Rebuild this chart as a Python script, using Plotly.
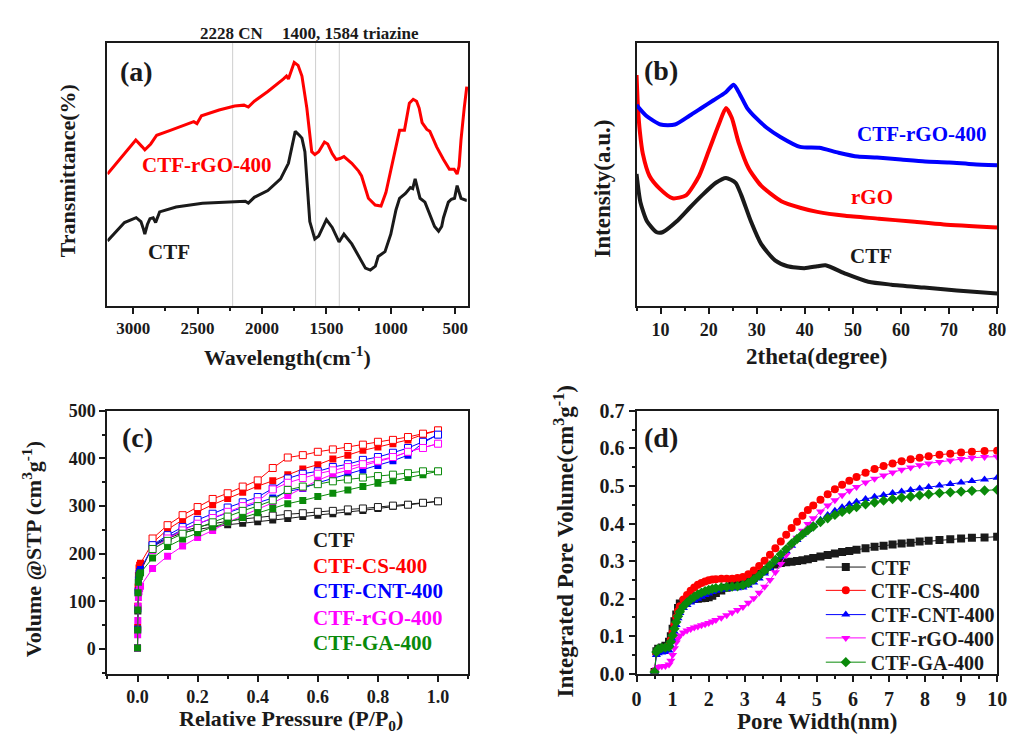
import plotly.graph_objects as go

W, H = 1018, 744
FONT = "Liberation Serif"
INK = "#1a1a1a"
RED, BLUE, MAG, GREEN = "#ff0000", "#0000ff", "#ff00ff", "#0a8a0a"

# ---------------- (a) FTIR spectra (arbitrary transmittance units) ----------------
ftir_wn_rgo = [3200, 2980, 2930, 2910, 2864, 2818, 2712, 2560, 2530, 2505, 2470, 2333, 2212, 2140,
               2106, 2060, 1955, 1833, 1810, 1795, 1775, 1750, 1720, 1690, 1652, 1630, 1614, 1590,
               1560, 1515, 1490, 1455, 1424, 1395, 1364, 1303, 1250, 1227, 1195, 1174, 1121, 1076,
               1038, 1000, 970, 932, 894, 870, 856, 826, 800, 780, 757, 720, 697, 670, 644, 591,
               545, 508, 485, 470, 455, 430, 410]
ftir_t_rgo = [136, 171, 164, 161, 167, 176, 181, 189, 190, 188, 196, 202, 206, 207,
              205, 211, 221, 234, 237, 234, 241, 251, 248, 237, 204, 179, 159, 156,
              159, 169, 167, 157, 151, 152, 154, 147, 139, 134, 119, 111, 104, 103,
              117, 139, 157, 181, 181, 199, 209, 213, 211, 204, 189, 182, 180, 172, 164, 151,
              141, 141, 136, 144, 171, 204, 226]

ftir_wn_ctf = [3200, 3068, 2977, 2940, 2920, 2910, 2890, 2870, 2845, 2826, 2795, 2667, 2462, 2212,
               2130, 2106, 2060, 1955, 1856, 1795, 1760, 1742, 1710, 1690, 1667, 1645, 1629, 1590,
               1560, 1500, 1455, 1402, 1364, 1303, 1250, 1197, 1159, 1120, 1098, 1045, 1000, 960,
               932, 886, 848, 830, 811, 790, 773, 735, 697, 660, 629, 605, 591, 553, 530, 505,
               485, 470, 455, 417, 410]
ftir_t_ctf = [67, 86, 91, 87, 79, 74, 84, 90, 91, 86, 97, 102, 106, 107,
              108, 106, 112, 119, 131, 147, 169, 180, 176, 173, 159, 119, 87, 69,
              72, 89, 81, 66, 74, 64, 51, 39, 37, 41, 51, 56, 74, 99,
              111, 116, 122, 121, 131, 119, 111, 107, 94, 82, 77, 82, 91, 107, 110, 111,
              124, 116, 111, 109, 109]

ftir_marks = [2228, 1584, 1400]

# ---------------- (b) XRD patterns (arbitrary intensity units) ----------------
xrd_tt_comp = [5.0, 7.0, 10.0, 13.0, 16.0, 18.5, 21.0, 23.5, 25.2, 26.5, 28.0, 30.0, 32.0, 35.0,
               39.0, 43.0, 47.0, 51.0, 55.0, 60.0, 65.0, 70.0, 75.0, 80.0]
xrd_i_comp = [207, 196, 187, 187, 196, 204, 212, 220, 228, 218, 204, 193, 184, 174,
              164, 163, 158, 154, 153, 151, 149, 148, 146, 145]

xrd_tt_rgo = [5.0, 5.3, 5.7, 6.3, 7.7, 9.8, 12.5, 15.3, 18.0, 20.1, 22.1, 23.6, 24.8, 26.2,
              28.3, 30.9, 35.1, 39.2, 42.6, 48.4, 55.4, 62.2, 68.9, 80.0]
xrd_i_rgo = [238, 204, 179, 157, 134, 121, 111, 114, 134, 161, 187, 204, 194, 169,
             142, 124, 108, 101, 97, 93, 90, 87, 84, 81]

xrd_tt_ctf = [5.0, 5.8, 7.2, 9.2, 10.4, 13.3, 16.0, 18.6, 21.5, 23.6, 25.6, 26.8, 28.8, 30.9,
              33.8, 36.4, 39.9, 42.6, 44.3, 48.6, 53.2, 58.0, 64.8, 71.6, 80.0]
xrd_i_ctf = [136, 107, 87, 76, 76, 87, 101, 114, 127, 132, 127, 114, 87, 64,
             47, 41, 39, 41, 42, 33, 25, 22, 19, 16, 13]

# ---------------- (c) N2 isotherms ----------------
p_ads = [0.0, 0.0005, 0.001, 0.002, 0.003, 0.005, 0.007, 0.01, 0.05, 0.1, 0.15, 0.2, 0.25, 0.3,
         0.35, 0.4, 0.45, 0.5, 0.55, 0.6, 0.65, 0.7, 0.75, 0.8, 0.85, 0.9, 0.95, 1.0]
p_des = [0.05, 0.1, 0.15, 0.2, 0.25, 0.3, 0.35, 0.4, 0.45, 0.5, 0.55, 0.6, 0.65, 0.7,
         0.75, 0.8, 0.85, 0.9, 0.95, 1.0]

ads_ctf = [2, 40, 80, 118, 140, 152, 158, 163, 215, 232, 244, 251, 256, 261,
           264, 267, 271, 274, 278, 281, 284, 288, 291, 295, 299, 303, 307, 310]
des_ctf = [217, 235, 247, 256, 263, 268, 273, 276, 280, 283, 285, 288, 290, 293,
           295, 298, 301, 303, 307, 310]
ads_cs = [2, 45, 90, 130, 155, 170, 176, 180, 223, 251, 271, 288, 303, 316,
          329, 342, 353, 366, 378, 387, 399, 407, 417, 424, 431, 439, 450, 459]
des_cs = [232, 260, 281, 298, 315, 327, 341, 354, 380, 402, 407, 414, 419, 424,
          429, 435, 439, 445, 452, 459]
ads_cnt = [2, 42, 85, 122, 145, 158, 163, 167, 215, 234, 251, 263, 274, 286,
           297, 307, 317, 331, 337, 349, 358, 367, 376, 385, 395, 407, 433, 450]
des_cnt = [218, 239, 256, 271, 284, 297, 308, 319, 337, 358, 368, 373, 382, 388,
           397, 403, 412, 422, 435, 450]
ads_rgo = [2, 30, 60, 90, 108, 120, 127, 132, 169, 195, 216, 234, 249, 266,
           280, 293, 307, 322, 338, 354, 367, 375, 385, 393, 402, 414, 422, 431]
des_rgo = [208, 232, 249, 263, 275, 288, 300, 310, 335, 349, 359, 368, 375, 382,
           388, 395, 403, 414, 422, 431]
ads_ga = [2, 40, 82, 118, 140, 152, 157, 160, 191, 215, 231, 244, 256, 266,
          276, 286, 295, 305, 312, 320, 327, 334, 341, 348, 353, 360, 366, 373]
des_ga = [210, 227, 242, 254, 266, 278, 290, 300, 312, 334, 341, 346, 352, 356,
          360, 363, 366, 369, 373, 373]

# ---------------- (d) cumulative pore volume ----------------
pore_w = [0.5, 0.55, 0.6, 0.7, 0.8, 0.9, 0.95, 1.0, 1.05, 1.1,
          1.15, 1.2, 1.3, 1.4, 1.5, 1.6, 1.7, 1.8, 1.9, 2.0,
          2.1, 2.2, 2.35, 2.5, 2.65, 2.8, 2.95, 3.1, 3.25, 3.4,
          3.55, 3.7, 3.85, 4.0, 4.15, 4.3, 4.45, 4.6, 4.75, 4.9,
          5.1, 5.3, 5.5, 5.7, 5.9, 6.1, 6.35, 6.6, 6.85, 7.1,
          7.35, 7.6, 7.85, 8.1, 8.4, 8.7, 9.0, 9.3, 9.65, 10.0]
pv_ctf = [0.005, 0.06, 0.067, 0.07, 0.075, 0.085, 0.10, 0.12, 0.14, 0.158,
          0.175, 0.187, 0.192, 0.195, 0.197, 0.199, 0.200, 0.201, 0.202, 0.204,
          0.208, 0.215, 0.222, 0.229, 0.234, 0.237, 0.240, 0.246, 0.255, 0.266,
          0.276, 0.285, 0.291, 0.295, 0.297, 0.298, 0.300, 0.302, 0.305, 0.308,
          0.312, 0.316, 0.320, 0.324, 0.327, 0.330, 0.334, 0.338, 0.341, 0.344,
          0.347, 0.349, 0.352, 0.354, 0.356, 0.358, 0.360, 0.362, 0.363, 0.365]
pv_cs = [0.005, 0.055, 0.062, 0.066, 0.068, 0.075, 0.09, 0.11, 0.13, 0.15,
         0.167, 0.18, 0.198, 0.21, 0.221, 0.23, 0.237, 0.242, 0.246, 0.249,
         0.251, 0.252, 0.253, 0.253, 0.253, 0.255, 0.258, 0.265, 0.275, 0.287,
         0.301, 0.317, 0.334, 0.352, 0.370, 0.388, 0.405, 0.421, 0.436, 0.448,
         0.463, 0.478, 0.491, 0.503, 0.514, 0.524, 0.535, 0.545, 0.553, 0.560,
         0.566, 0.571, 0.575, 0.579, 0.583, 0.586, 0.589, 0.591, 0.593, 0.594]
pv_cnt = [0.005, 0.05, 0.055, 0.057, 0.058, 0.062, 0.075, 0.092, 0.112, 0.13,
          0.148, 0.162, 0.175, 0.183, 0.19, 0.195, 0.2, 0.205, 0.21, 0.214,
          0.218, 0.221, 0.224, 0.226, 0.227, 0.228, 0.23, 0.235, 0.243, 0.254,
          0.267, 0.281, 0.296, 0.311, 0.326, 0.341, 0.356, 0.37, 0.383, 0.395,
          0.41, 0.423, 0.434, 0.443, 0.451, 0.458, 0.465, 0.471, 0.476, 0.481,
          0.485, 0.489, 0.493, 0.497, 0.501, 0.505, 0.509, 0.513, 0.517, 0.522]
pv_rgo = [0.003, 0.012, 0.018, 0.02, 0.021, 0.025, 0.035, 0.05, 0.068, 0.083,
          0.094, 0.102, 0.11, 0.115, 0.119, 0.123, 0.126, 0.129, 0.132, 0.135,
          0.139, 0.143, 0.149, 0.156, 0.163, 0.17, 0.178, 0.189, 0.201, 0.216,
          0.232, 0.25, 0.27, 0.292, 0.316, 0.34, 0.362, 0.381, 0.399, 0.414,
          0.432, 0.448, 0.462, 0.475, 0.487, 0.497, 0.509, 0.519, 0.528, 0.536,
          0.543, 0.549, 0.555, 0.56, 0.564, 0.568, 0.572, 0.575, 0.577, 0.578]
pv_ga = [0.005, 0.058, 0.066, 0.069, 0.07, 0.072, 0.085, 0.102, 0.12, 0.138,
         0.153, 0.165, 0.18, 0.19, 0.198, 0.205, 0.211, 0.216, 0.22, 0.223,
         0.226, 0.228, 0.23, 0.231, 0.232, 0.233, 0.236, 0.242, 0.251, 0.262,
         0.275, 0.289, 0.303, 0.318, 0.332, 0.346, 0.359, 0.371, 0.382, 0.392,
         0.404, 0.414, 0.423, 0.431, 0.438, 0.444, 0.451, 0.456, 0.461, 0.465,
         0.469, 0.472, 0.475, 0.478, 0.481, 0.483, 0.485, 0.487, 0.488, 0.49]

fig = go.Figure()

# (a)
fig.add_trace(go.Scatter(x=ftir_wn_ctf, y=ftir_t_ctf, mode="lines", line=dict(color=INK, width=3),
                         xaxis="x", yaxis="y", showlegend=False))
fig.add_trace(go.Scatter(x=ftir_wn_rgo, y=ftir_t_rgo, mode="lines", line=dict(color=RED, width=3),
                         xaxis="x", yaxis="y", showlegend=False))

# (b)
for tt, it, col in [(xrd_tt_ctf, xrd_i_ctf, INK), (xrd_tt_rgo, xrd_i_rgo, RED),
                    (xrd_tt_comp, xrd_i_comp, BLUE)]:
    fig.add_trace(go.Scatter(x=tt, y=it, mode="lines",
                             line=dict(color=col, width=4, shape="spline", smoothing=0.6),
                             xaxis="x2", yaxis="y2", showlegend=False))

# (c)
iso = [(ads_ctf, des_ctf, INK), (ads_cs, des_cs, RED), (ads_cnt, des_cnt, BLUE),
       (ads_rgo, des_rgo, MAG), (ads_ga, des_ga, GREEN)]
for ads, des, col in iso:
    fig.add_trace(go.Scatter(x=p_ads, y=ads, mode="lines+markers", line=dict(color=col, width=1),
                             marker=dict(symbol="square", size=7, color=col),
                             xaxis="x3", yaxis="y3", showlegend=False))
    fig.add_trace(go.Scatter(x=p_des, y=des, mode="lines+markers", line=dict(color=col, width=1),
                             marker=dict(symbol="square", size=7, color="white", line=dict(color=col, width=1)),
                             xaxis="x3", yaxis="y3", showlegend=False))

# (d) -- one single-entry legend per series so the rows can be spaced freely
pores = [("CTF", pv_ctf, INK, "square"), ("CTF-CS-400", pv_cs, RED, "circle"),
         ("CTF-CNT-400", pv_cnt, BLUE, "triangle-up"), ("CTF-rGO-400", pv_rgo, MAG, "triangle-down"),
         ("CTF-GA-400", pv_ga, GREEN, "diamond")]
legend_rows = [573, 597, 622, 646, 671]
legend_ids = ["legend", "legend2", "legend3", "legend4", "legend5"]
for (name, pv, col, sym), lid in zip(pores, legend_ids):
    fig.add_trace(go.Scatter(x=pore_w, y=pv, name=name, mode="lines+markers", legend=lid,
                             line=dict(color=col, width=1), marker=dict(symbol=sym, size=8, color=col),
                             xaxis="x4", yaxis="y4"))


def axis(**kw):
    d = dict(showline=True, linecolor=INK, linewidth=2, mirror=True, showgrid=False, zeroline=False,
             ticks="outside", ticklen=6, tickwidth=1.5, tickcolor=INK,
             tickfont=dict(family=FONT, size=18, color=INK, weight="bold"))
    d.update(kw)
    return d


def minor(dt):
    return dict(ticks="outside", ticklen=3, tickwidth=1.5, tickcolor=INK, dtick=dt, tick0=0)


top_dom = [1 - 304 / H, 1 - 33 / H]
bot_dom = [1 - 683 / H, 1 - 412 / H]
left_dom = [104 / W, 470 / W]
right_dom = [641 / W, 1007 / W]
no_y = dict(ticks="", showticklabels=False)

layout = dict(
    width=W, height=H, margin=dict(l=0, r=0, t=0, b=0),
    paper_bgcolor="white", plot_bgcolor="white",
    xaxis=axis(domain=left_dom, anchor="y", range=[3200, 400], dtick=500, tick0=0, minor=minor(250),
               tickfont=dict(family=FONT, size=17, color=INK, weight="bold")),
    yaxis=axis(domain=top_dom, anchor="x", range=[0, 271], **no_y),
    xaxis2=axis(domain=right_dom, anchor="y2", range=[5, 80], dtick=10, tick0=0, minor=minor(5)),
    yaxis2=axis(domain=top_dom, anchor="x2", range=[0, 271], **no_y),
    xaxis3=axis(domain=left_dom, anchor="y3", range=[-0.1, 1.1], dtick=0.2, tick0=0, tickformat=".1f",
                minor=minor(0.1)),
    yaxis3=axis(domain=bot_dom, anchor="x3", range=[-52, 500], dtick=100, tick0=0, minor=minor(50)),
    xaxis4=axis(domain=right_dom, anchor="y4", range=[0, 10], dtick=1, tick0=0, minor=minor(0.5),
                tickfont=dict(family=FONT, size=20, color=INK, weight="bold")),
    yaxis4=axis(domain=bot_dom, anchor="x4", range=[0, 0.7], dtick=0.1, tick0=0, tickformat=".1f",
                minor=minor(0.05), tickfont=dict(family=FONT, size=20, color=INK, weight="bold")),
)
for lid, row in zip(legend_ids, legend_rows):
    layout[lid] = dict(x=828 / W, y=1 - row / H, xanchor="left", yanchor="middle",
                       bgcolor="rgba(0,0,0,0)", itemwidth=40,
                       font=dict(family=FONT, size=20, color=INK, weight="bold"))
fig.update_layout(**layout)

# band positions in (a)
for wn in ftir_marks:
    fig.add_shape(type="line", xref="x", yref="y domain", x0=wn, x1=wn, y0=0, y1=1,
                  line=dict(color="#cfcfcf", width=1), layer="below")


def ann(text, x, y, size, color=INK, anchor="center", angle=0):
    fig.add_annotation(text=text, x=x / W, y=1 - y / H, xref="paper", yref="paper", showarrow=False,
                       xanchor=anchor, yanchor="middle", textangle=angle,
                       font=dict(family=FONT, size=size, color=color, weight="bold"))


# panel letters
ann("(a)", 133, 62, 28)
ann("(b)", 666, 61, 28)
ann("(c)", 134, 440, 28)
ann("(d)", 666, 440, 28)

# (a) texts
ann("2228 CN", 230, 23, 17)
ann("1400, 1584 triazine", 351, 23, 17)
ann("CTF-rGO-400", 205, 159, 21, RED)
ann("CTF", 166, 248, 21)
ann("Wavelength(cm<sup>-1</sup>)", 287, 356, 22)
ann("Transmittance(%)", 63, 165, 22, angle=-90)

# (b) texts
ann("CTF-rGO-400", 930, 127, 21, BLUE)
ann("rGO", 880, 192, 21, RED)
ann("CTF", 879, 252, 21)
ann("2theta(degree)", 824, 356, 23)
ann("Intensity(a.u.)", 607, 183, 23, angle=-90)

# (c) texts
for label, col, yy in [("CTF", INK, 545), ("CTF-CS-400", RED, 572), ("CTF-CNT-400", BLUE, 598),
                       ("CTF-rGO-400", MAG, 625), ("CTF-GA-400", GREEN, 651)]:
    ann(label, 311, yy, 21, col, anchor="left")
ann("Relative Pressure (P/P<sub>0</sub>)", 290, 731, 22)
ann("Volume @STP (cm<sup>3</sup>g<sup>-1</sup>)", 27, 555, 22, angle=-90)

# (d) texts
ann("Pore Width(nm)", 824, 732, 23)
ann("Integrated Pore Volume(cm<sup>3</sup>g<sup>-1</sup>)", 568, 547, 23, angle=-90)

fig.write_html("out.html")
